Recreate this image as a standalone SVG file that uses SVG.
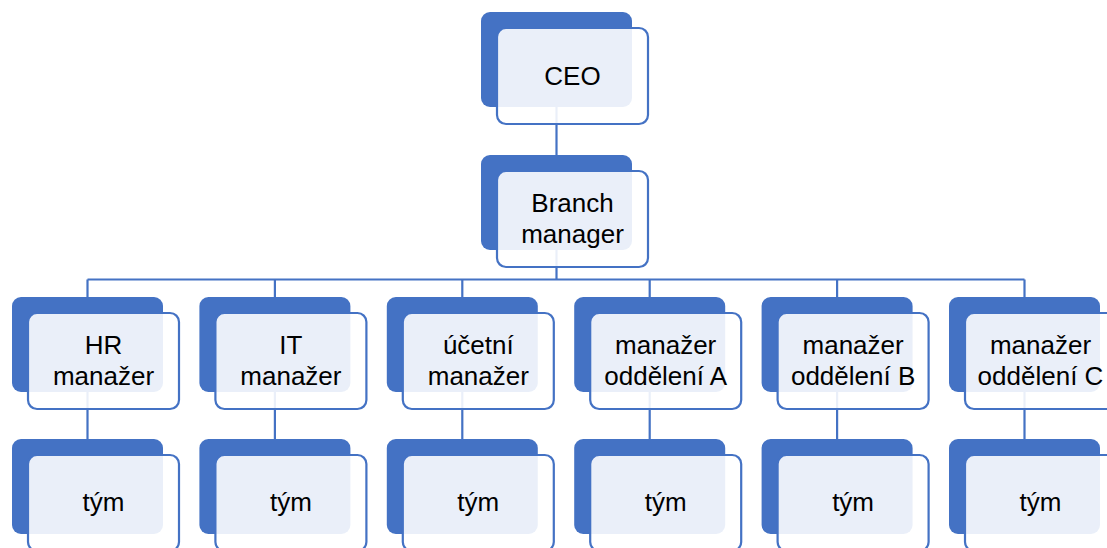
<svg xmlns="http://www.w3.org/2000/svg" width="1107" height="548" viewBox="0 0 1107 548">
  <style>
    .back { fill: #4472C4; }
    .front { fill: #FFFFFF; fill-opacity: 0.89; stroke: #4472C4; stroke-width: 2.2; }
    .link { fill: none; stroke: #4472C4; stroke-width: 2.2; }
    .label { font-family: "Liberation Sans", Arial, sans-serif; font-size: 26px; fill: #000000; text-anchor: middle; }
  </style>
  <defs>
    <!-- one card: solid blue plate behind a translucent outlined panel -->
    <g id="card">
      <rect class="back" x="0" y="0" width="151" height="95" rx="9"/>
      <rect class="front" x="16" y="16" width="151" height="96" rx="9"/>
    </g>
  </defs>
  <rect width="1107" height="548" fill="#FFFFFF"/>

  <!-- connectors (drawn first so the panels veil them) -->
  <g id="connectors">
    <path class="link" d="M556.5 107 V155"/>
    <path class="link" d="M556.5 250 V279.5"/>
    <path class="link" d="M87.5 279.5 H1024.5"/>
    <path class="link" d="M87.5 279.5 V297 M274.9 279.5 V297 M462.3 279.5 V297 M649.7 279.5 V297 M837.1 279.5 V297 M1024.5 279.5 V297"/>
    <path class="link" d="M87.5 392 V439 M274.9 392 V439 M462.3 392 V439 M649.7 392 V439 M837.1 392 V439 M1024.5 392 V439"/>
  </g>

  <g id="ceo">
    <use href="#card" x="481" y="12"/>
    <text class="label" x="572.5" y="84.5">CEO</text>
  </g>

  <g id="branch-manager">
    <use href="#card" x="481" y="155"/>
    <text class="label" x="572.5" y="211.5">Branch</text>
    <text class="label" x="572.5" y="242.5">manager</text>
  </g>

  <g id="hr-manager">
    <use href="#card" x="12" y="297"/>
    <text class="label" x="103.5" y="353.5">HR</text>
    <text class="label" x="103.5" y="384.5">manažer</text>
  </g>

  <g id="it-manager">
    <use href="#card" x="199.4" y="297"/>
    <text class="label" x="290.9" y="353.5">IT</text>
    <text class="label" x="290.9" y="384.5">manažer</text>
  </g>

  <g id="ucetni-manager">
    <use href="#card" x="386.8" y="297"/>
    <text class="label" x="478.3" y="353.5">účetní</text>
    <text class="label" x="478.3" y="384.5">manažer</text>
  </g>

  <g id="manager-a">
    <use href="#card" x="574.2" y="297"/>
    <text class="label" x="665.7" y="353.5">manažer</text>
    <text class="label" x="665.7" y="384.5">oddělení A</text>
  </g>

  <g id="manager-b">
    <use href="#card" x="761.6" y="297"/>
    <text class="label" x="853.1" y="353.5">manažer</text>
    <text class="label" x="853.1" y="384.5">oddělení B</text>
  </g>

  <g id="manager-c">
    <use href="#card" x="949" y="297"/>
    <text class="label" x="1040.5" y="353.5">manažer</text>
    <text class="label" x="1040.5" y="384.5">oddělení C</text>
  </g>

  <g id="team-hr">
    <use href="#card" x="12" y="439"/>
    <text class="label" x="103.5" y="511">tým</text>
  </g>

  <g id="team-it">
    <use href="#card" x="199.4" y="439"/>
    <text class="label" x="290.9" y="511">tým</text>
  </g>

  <g id="team-ucetni">
    <use href="#card" x="386.8" y="439"/>
    <text class="label" x="478.3" y="511">tým</text>
  </g>

  <g id="team-a">
    <use href="#card" x="574.2" y="439"/>
    <text class="label" x="665.7" y="511">tým</text>
  </g>

  <g id="team-b">
    <use href="#card" x="761.6" y="439"/>
    <text class="label" x="853.1" y="511">tým</text>
  </g>

  <g id="team-c">
    <use href="#card" x="949" y="439"/>
    <text class="label" x="1040.5" y="511">tým</text>
  </g>
</svg>
